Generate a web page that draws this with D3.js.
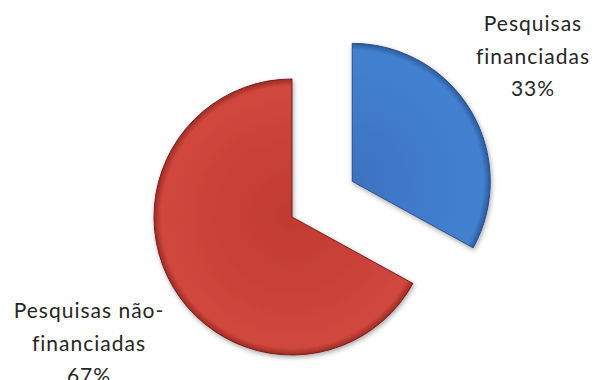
<!DOCTYPE html>
<html>
<head>
<meta charset="utf-8">
<script src="https://cdn.jsdelivr.net/npm/d3@7"></script>
<style>
  html, body { margin: 0; padding: 0; background: #ffffff; }
  svg { display: block; }
  text { font-family: Lato, "Open Sans", sans-serif; fill: #262626; }
</style>
</head>
<body>
<svg id="chart" width="599" height="380"></svg>
<script>
// Share of research projects with and without funding
const categories = ["Pesquisas financiadas", "Pesquisas não-financiadas"];
const labelLines = [["Pesquisas", "financiadas"], ["Pesquisas não-", "financiadas"]];
const values = [33, 67];
const percentLabels = ["33%", "67%"];

const width = 599, height = 380;
const cx = 292, cy = 217, radius = 138, explode = [70, 0];

const palette = [
  { base: "#4380d0", inner: "#3b72c0", rim: "#2c5a9c", stroke: "#2a4f88" },
  { base: "#cf463d", inner: "#c13a32", rim: "#9c2b25", stroke: "#7a1f1b" }
];

const svg = d3.select("#chart");
const defs = svg.append("defs");

// soft shadow under the slices
const shadow = defs.append("filter").attr("id", "shadow")
  .attr("x", "-20%").attr("y", "-20%").attr("width", "140%").attr("height", "140%");
shadow.append("feDropShadow")
  .attr("dx", 1).attr("dy", 2).attr("stdDeviation", 2.5)
  .attr("flood-color", "#000").attr("flood-opacity", 0.35);

palette.forEach((p, i) => {
  const g = defs.append("radialGradient").attr("id", "grad" + i)
    .attr("gradientUnits", "userSpaceOnUse")
    .attr("cx", 0).attr("cy", 0).attr("r", radius);
  g.append("stop").attr("offset", "0%").attr("stop-color", p.inner);
  g.append("stop").attr("offset", "88%").attr("stop-color", p.base);
  g.append("stop").attr("offset", "95%").attr("stop-color", p.base);
  g.append("stop").attr("offset", "100%").attr("stop-color", p.rim);
});

const pie = d3.pie().sort(null).value(d => d);
const arcs = pie(values);
const arc = d3.arc().innerRadius(0).outerRadius(radius);

const slices = svg.append("g")
  .attr("transform", `translate(${cx},${cy})`)
  .selectAll("g.slice")
  .data(arcs)
  .join("g")
  .attr("class", "slice")
  .attr("transform", (d, i) => {
    const mid = (d.startAngle + d.endAngle) / 2;
    const dist = explode[i];
    return `translate(${Math.sin(mid) * dist},${-Math.cos(mid) * dist})`;
  });

slices.append("path")
  .attr("d", arc)
  .attr("fill", (d, i) => `url(#grad${i})`)
  .attr("stroke", (d, i) => palette[i].stroke)
  .attr("stroke-width", 1)
  .attr("stroke-linejoin", "round")
  .attr("filter", "url(#shadow)");

// data labels
const labelPos = [
  { x: 533, y: 31 },
  { x: 89, y: 318 }
];
const lineGap = 32.5;

const labels = svg.append("g").selectAll("text")
  .data(categories)
  .join("text")
  .attr("text-anchor", "middle")
  .attr("font-size", 21)
  .attr("letter-spacing", 1);

labels.each(function (c, i) {
  const t = d3.select(this);
  const lines = labelLines[i].concat([percentLabels[i]]);
  lines.forEach((ln, j) => {
    t.append("tspan")
      .attr("x", labelPos[i].x)
      .attr("y", labelPos[i].y + j * lineGap)
      .text(ln);
  });
});
</script>
</body>
</html>
